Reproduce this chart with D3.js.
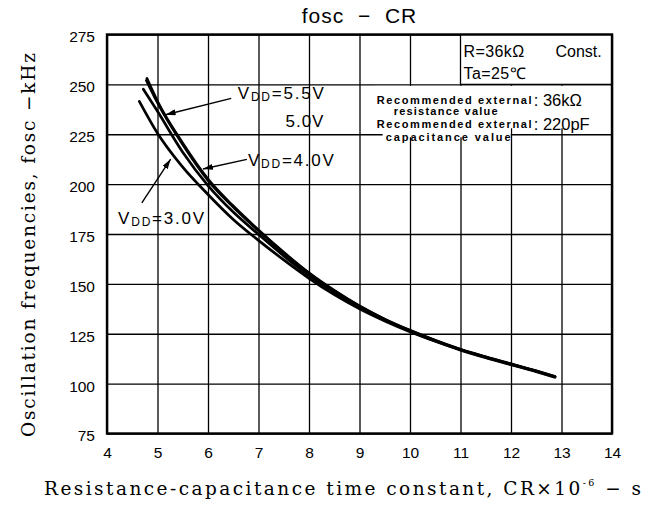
<!DOCTYPE html>
<html>
<head>
<meta charset="utf-8">
<script src="https://cdn.jsdelivr.net/npm/d3@7"></script>
<style>
  html, body { margin: 0; padding: 0; background: #fff; }
  svg { display: block; }
  .sans { font-family: "Liberation Sans", Arial, Helvetica, sans-serif; }
  .serif { font-family: "DejaVu Serif", "Liberation Serif", serif; }
</style>
</head>
<body>
<svg id="chart" width="652" height="513"></svg>
<script>
// Axis ticks
const crTicks = [4, 5, 6, 7, 8, 9, 10, 11, 12, 13, 14];
const foscTicks = [75, 100, 125, 150, 175, 200, 225, 250, 275];

// fosc (kHz) against CR (x10^-6 s), one curve per supply voltage
const cr55 = [4.79, 5.0, 5.5, 6.0, 6.5, 7.0, 7.5, 8.0, 8.5, 9.0, 9.5, 10.0, 10.5, 11.0, 11.5, 12.0, 12.5, 12.87];
const f55  = [253.0, 241.5, 220.5, 202.5, 189.0, 177.0, 165.8, 155.5, 146.7, 138.9, 132.3, 126.7, 121.7, 117.2, 113.4, 109.9, 106.4, 103.6];

const cr50 = [4.78, 5.0, 5.5, 6.0, 6.5, 7.0, 7.5, 8.0, 8.5, 9.0, 9.5, 10.0, 10.5, 11.0, 11.5, 12.0, 12.5, 12.87];
const f50  = [252.0, 240.8, 219.8, 201.9, 188.5, 176.6, 165.4, 155.2, 146.5, 138.8, 132.2, 126.6, 121.6, 117.1, 113.3, 109.8, 106.3, 103.5];

const cr40 = [4.72, 5.0, 5.5, 6.0, 6.5, 7.0, 7.5, 8.0, 8.5, 9.0, 9.5, 10.0, 10.5, 11.0, 11.5, 12.0, 12.5, 12.87];
const f40  = [247.6, 236.5, 216.0, 199.3, 186.0, 174.8, 164.0, 154.2, 145.8, 138.3, 131.9, 126.3, 121.4, 117.0, 113.2, 109.7, 106.2, 103.4];

const cr30 = [4.64, 5.0, 5.5, 6.0, 6.5, 7.0, 7.5, 8.0, 8.5, 9.0, 9.5, 10.0, 10.5, 11.0, 11.5, 12.0, 12.5, 12.87];
const f30  = [241.5, 225.5, 208.5, 194.8, 182.3, 171.8, 162.0, 152.8, 144.6, 137.5, 131.4, 126.0, 121.2, 116.8, 113.0, 109.5, 106.0, 103.2];

const supplyLabels = ["5.5V", "5.0V", "4.0V", "3.0V"];

// Curve annotations: text anchor and arrow (tail -> tip) in data units
const noteText  = ["5.5V", "4.0V", "3.0V"];
const noteAt    = [[6.59, 242.7], [6.79, 209.2], [4.22, 180.0]];
const arrowFrom = [[6.46, 243.0], [6.77, 212.4], [4.69, 190.6]];
const arrowTo   = [[5.16, 234.8], [5.90, 207.6], [5.26, 212.5]];

const W = 652, H = 513;
const plot = { left: 107, right: 612, top: 34.5, bottom: 433.5 };

const svg = d3.select("#chart");
svg.append("rect").attr("width", W).attr("height", H).attr("fill", "#fff");

const x = d3.scaleLinear().domain([4, 14]).range([plot.left, plot.right]);
const y = d3.scaleLinear().domain([75, 275]).range([plot.bottom, plot.top]);

// grid
svg.append("g")
  .attr("transform", `translate(0,${plot.bottom})`)
  .call(d3.axisBottom(x).tickValues(crTicks).tickSize(-(plot.bottom - plot.top)).tickFormat(""))
  .call(g => g.select(".domain").remove())
  .call(g => g.selectAll("line").attr("stroke", "#000").attr("stroke-width", 1.3));
svg.append("g")
  .attr("transform", `translate(${plot.left},0)`)
  .call(d3.axisLeft(y).tickValues(foscTicks).tickSize(-(plot.right - plot.left)).tickFormat(""))
  .call(g => g.select(".domain").remove())
  .call(g => g.selectAll("line").attr("stroke", "#000").attr("stroke-width", 1.3));

// tick labels
svg.append("g")
  .attr("class", "sans")
  .attr("transform", `translate(0,${plot.bottom})`)
  .call(d3.axisBottom(x).tickValues(crTicks).tickSize(0).tickPadding(13).tickFormat(d3.format("d")))
  .call(g => g.select(".domain").remove())
  .call(g => g.selectAll("text").attr("font-size", 15.5).attr("fill", "#000").attr("font-family", null));
svg.append("g")
  .attr("class", "sans")
  .attr("transform", `translate(${plot.left},2.5)`)
  .call(d3.axisLeft(y).tickValues(foscTicks).tickSize(0).tickPadding(12).tickFormat(d3.format("d")))
  .call(g => g.select(".domain").remove())
  .call(g => g.selectAll("text").attr("font-size", 15.5).attr("fill", "#000").attr("font-family", null));

// condition box (upper right)
const boxL = x(11), boxB = y(250);
svg.append("rect")
  .attr("x", boxL).attr("y", plot.top).attr("width", plot.right - boxL).attr("height", boxB - plot.top)
  .attr("fill", "#fff").attr("stroke", "#000").attr("stroke-width", 1.3);
const cond = svg.append("g").attr("class", "sans").attr("font-size", 16).attr("fill", "#000");
cond.append("text").attr("x", boxL + 3).attr("y", plot.top + 22).attr("letter-spacing", 0.4).text("R=36kΩ");
cond.append("text").attr("x", boxL + 95).attr("y", plot.top + 22).text("Const.");
cond.append("text").attr("x", boxL + 3).attr("y", plot.top + 44).attr("letter-spacing", 0.4).text("Ta=25℃");

// recommended values panel
const panL = x(9.3), panT = boxB + 1.5, panB = y(228);
svg.append("rect").attr("x", panL).attr("y", panT).attr("width", plot.right - 1.5 - panL).attr("height", panB - panT).attr("fill", "#fff");
svg.append("rect").attr("x", panL + 8).attr("y", panB - 1).attr("width", 128).attr("height", 10).attr("fill", "#fff");
const rec = svg.append("g").attr("class", "sans").attr("fill", "#000");
[["Recommended external", 0, 104, 155], ["resistance value", 17, 115, 104], ["Recommended external", 0, 128, 155], ["capacitance value", 9, 141, 125]]
  .forEach(([t, dx, yy, len]) => {
    rec.append("text").attr("x", panL + 2 + dx).attr("y", yy)
      .attr("font-size", 11).attr("font-weight", "bold")
      .attr("textLength", len).attr("lengthAdjust", "spacing").text(t);
  });
rec.append("text").attr("x", x(12.45)).attr("y", 106).attr("font-size", 16.5).text(": 36kΩ");
rec.append("text").attr("x", x(12.45)).attr("y", 130).attr("font-size", 16.5).text(": 220pF");

// curves
const line = d3.line().x(d => x(d[0])).y(d => y(d[1])).curve(d3.curveMonotoneX);
const series = [
  d3.zip(cr55, f55), d3.zip(cr50, f50), d3.zip(cr40, f40), d3.zip(cr30, f30)
];
svg.append("g").selectAll("path").data(series).join("path")
  .attr("d", line)
  .attr("fill", "none").attr("stroke", "#000").attr("stroke-width", 2.7)
  .attr("stroke-linecap", "round");

// arrow heads
svg.append("defs").append("marker")
  .attr("id", "head").attr("viewBox", "0 0 10 6").attr("refX", 10).attr("refY", 3)
  .attr("markerWidth", 10).attr("markerHeight", 6).attr("markerUnits", "userSpaceOnUse")
  .attr("orient", "auto")
  .append("path").attr("d", "M0,0 L10,3 L0,6 Z").attr("fill", "#000");

const notes = svg.append("g");
arrowFrom.forEach((a, i) => {
  notes.append("line")
    .attr("x1", x(a[0])).attr("y1", y(a[1]))
    .attr("x2", x(arrowTo[i][0])).attr("y2", y(arrowTo[i][1]))
    .attr("stroke", "#000").attr("stroke-width", 1.4)
    .attr("marker-end", "url(#head)");
});

function vddLabel(g, px, py, value) {
  const t = g.append("text").attr("class", "sans").attr("x", px).attr("y", py)
    .attr("font-size", 17).attr("fill", "#000")
    .attr("textLength", 86).attr("lengthAdjust", "spacing");
  t.append("tspan").text("V");
  t.append("tspan").attr("font-size", 12).attr("dy", 2).text("DD");
  t.append("tspan").attr("dy", -2).text("=" + value);
  return t;
}
noteText.forEach((v, i) => vddLabel(notes, x(noteAt[i][0]), y(noteAt[i][1]), v));
// 5.0V shares the 5.5V arrow, set under its value
const lbl55 = notes.select("text").node().getBBox();
notes.append("text").attr("class", "sans").attr("x", lbl55.x + lbl55.width).attr("y", y(noteAt[0][1]) + 28)
  .attr("text-anchor", "end").attr("font-size", 17).attr("letter-spacing", 1).attr("fill", "#000").text(supplyLabels[1]);

// frame
svg.append("rect")
  .attr("x", plot.left).attr("y", plot.top)
  .attr("width", plot.right - plot.left).attr("height", plot.bottom - plot.top)
  .attr("fill", "none").attr("stroke", "#000").attr("stroke-width", 2.4);

// title
svg.append("text").attr("class", "sans")
  .attr("x", (plot.left + plot.right) / 2).attr("y", 23)
  .attr("text-anchor", "middle").attr("font-size", 21).attr("letter-spacing", 1)
  .attr("xml:space", "preserve").style("white-space", "pre")
  .text("fosc  −  CR");

// axis titles
svg.append("text").attr("class", "serif")
  .attr("transform", `translate(35,245) rotate(-90)`)
  .attr("text-anchor", "middle").attr("font-size", 18.5).attr("fill", "#000")
  .attr("textLength", 384).attr("lengthAdjust", "spacing")
  .text("Oscillation frequencies,  fosc −kHz");

const xt = svg.append("text").attr("class", "serif")
  .attr("x", 44).attr("y", 495)
  .attr("font-size", 18.5).attr("fill", "#000")
  .attr("textLength", 597).attr("lengthAdjust", "spacing");
xt.append("tspan").text("Resistance-capacitance time constant,  CR×10");
xt.append("tspan").attr("font-size", 9.5).attr("dy", -9).text("-6");
xt.append("tspan").attr("dy", 9).text(" − s");
</script>
</body>
</html>
